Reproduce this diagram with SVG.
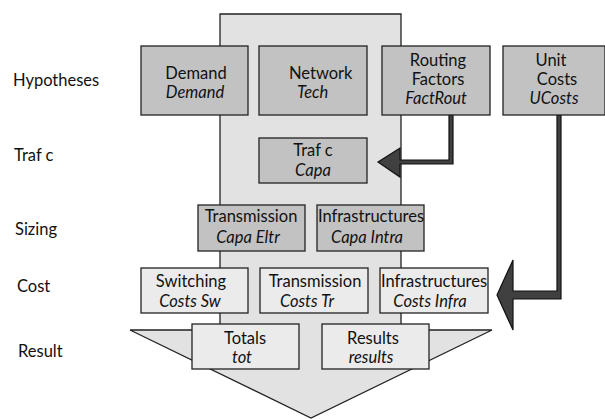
<svg xmlns="http://www.w3.org/2000/svg" width="605" height="419" viewBox="0 0 605 419">
<style>
text{font-family:Lato,"Open Sans","DejaVu Sans",sans-serif;font-size:16.5px;fill:#111}
.i{font-style:italic}
.m{text-anchor:middle}
.dk{fill:#c2c2c2;stroke:#222;stroke-width:1.3}
.lt{fill:#ebebeb;stroke:#222;stroke-width:1.3}
.ar{fill:#404040;stroke:#111;stroke-width:1.2;stroke-linejoin:miter}
</style>
<rect width="605" height="419" fill="#fff"/>
<g id="flow">
<polygon points="220,14 401,14 401,330 492,330 311,418 130,330 220,330" fill="#e2e2e2" stroke="#222" stroke-width="1.3"/>
</g>
<g id="labels">
<text x="13" y="86">Hypotheses</text>
<text x="14" y="161">Traf c</text>
<text x="15" y="235">Sizing</text>
<text x="17" y="292">Cost</text>
<text x="18" y="357">Result</text>
</g>
<g id="connectors">
<path class="ar" d="M449,115 V160 H400 V148 L378,162 L400,177 V164 H453 V115 Z"/>
<path class="ar" d="M557,115 V291 H513 V260 L497,295 L513,330 V299 H561 V115 Z"/>
</g>
<g id="demand"><rect class="dk" x="141" y="46" width="107" height="69"/><text class="m" x="196" y="79">Demand</text><text class="m i" x="195" y="98">Demand</text></g>
<g id="network"><rect class="dk" x="259" y="46" width="108" height="69"/><text x="289" y="79">Network</text><text class="i" x="297" y="98">Tech</text></g>
<g id="routing"><rect class="dk" x="382" y="46" width="108" height="69"/><text class="m" x="438" y="66">Routing</text><text class="m" x="438" y="85">Factors</text><text class="m i" x="436" y="104">FactRout</text></g>
<g id="unitcosts"><rect class="dk" x="503" y="46" width="102" height="69"/><text class="m" x="551" y="66">Unit</text><text class="m" x="557" y="85">Costs</text><text class="m i" x="554" y="104">UCosts</text></g>
<g id="traffic"><rect class="dk" x="259" y="138" width="108" height="45"/><text class="m" x="313" y="156">Traf c</text><text class="m i" x="313" y="176">Capa</text></g>
<g id="capaeltr"><rect class="dk" x="198" y="205" width="107" height="46"/><text class="m" x="251" y="222">Transmission</text><text class="m i" x="248" y="243">Capa Eltr</text></g>
<g id="capaintra"><rect class="dk" x="317" y="205" width="107" height="46"/><text class="m" x="371" y="222">Infrastructures</text><text class="m i" x="367" y="243">Capa Intra</text></g>
<g id="costsw"><rect class="lt" x="141" y="268" width="107" height="45"/><text class="m" x="191" y="287">Switching</text><text class="m i" x="190" y="307">Costs Sw</text></g>
<g id="coststr"><rect class="lt" x="260" y="268" width="108" height="45"/><text class="m" x="315" y="287">Transmission</text><text class="m i" x="307" y="307">Costs Tr</text></g>
<g id="costsinfra"><rect class="lt" x="380" y="268" width="108" height="45"/><text class="m" x="434" y="287">Infrastructures</text><text class="m i" x="430" y="307">Costs Infra</text></g>
<g id="totals"><rect class="lt" x="192" y="324" width="107" height="45"/><text class="m" x="245" y="344">Totals</text><text class="m i" x="242" y="363">tot</text></g>
<g id="results"><rect class="lt" x="322" y="324" width="107" height="45"/><text class="m" x="373" y="344">Results</text><text class="m i" x="371" y="363">results</text></g>
</svg>
